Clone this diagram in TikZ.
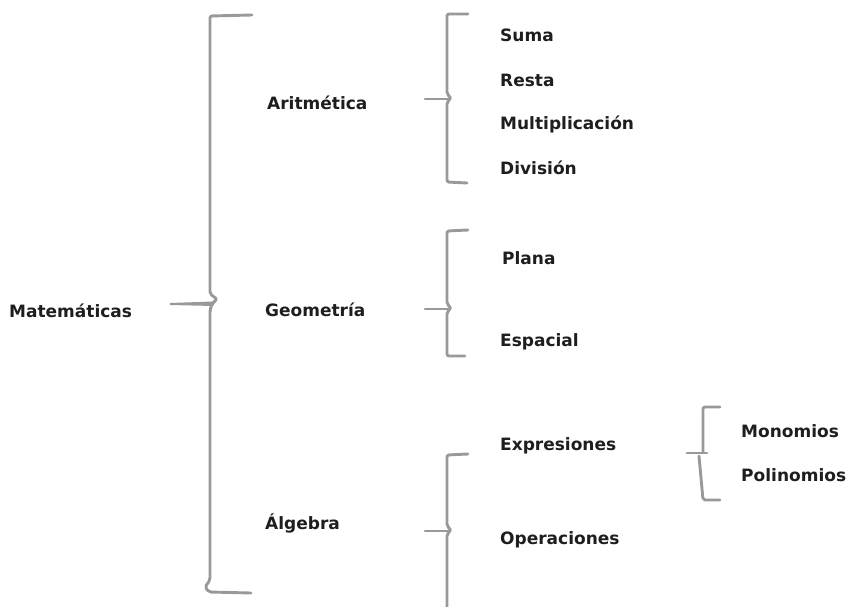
\documentclass[tikz,border=0pt]{standalone}
\usepackage{fontspec}
\setmainfont{DejaVu Sans}
\definecolor{txt}{HTML}{1E1E1E}
\definecolor{brc}{HTML}{999999}
\begin{document}
\begin{tikzpicture}[x=1pt,y=-1pt,
  lbl/.style={anchor=west,inner sep=0pt,text=txt,font=\fontsize{17}{20}\selectfont\bfseries},
  brace/.style={draw=brc,line width=2.9pt,line join=round,line cap=round,rounded corners=2pt}]
\useasboundingbox (0,0) rectangle (848,607);
% labels
\node[lbl] (mat) at (9,311) {Matemáticas};
\node[lbl] (ari) at (267,103) {Aritmética};
\node[lbl] (geo) at (265,310) {Geometría};
\node[lbl] (alg) at (265,523) {Álgebra};
\node[lbl] (sum) at (500,35) {Suma};
\node[lbl] (res) at (500,80) {Resta};
\node[lbl] (mul) at (500,124) {Multiplicación};
\node[lbl] (div) at (500,168) {División};
\node[lbl] (pla) at (502,258) {Plana};
\node[lbl] (esp) at (500,342) {Espacial};
\node[lbl] (exp) at (500,446) {Expresiones};
\node[lbl] (ope) at (500,540) {Operaciones};
\node[lbl] (mon) at (741,431) {Monomios};
\node[lbl] (pol) at (741,475) {Polinomios};
% main brace
\draw[brace] (252,15) -- (210,16) -- (210,294) -- (217,299) -- (212,304) -- (210,310) -- (210,580) -- (205,587) -- (209,592) -- (251,593);
\fill[brc] (170,303) -- (213,301.5) -- (213,306) -- (170,305) -- cycle;
% Aritmetica brace
\draw[brace] (468,14) -- (447,14) -- (447,94) -- (451,98) -- (447,102) -- (447,182) -- (467,183);
\draw[brace] (425,99) -- (449,99);
% Geometria brace
\draw[brace] (468,230) -- (447,231) -- (447,304) -- (451,308) -- (447,312) -- (447,356) -- (465,356);
\draw[brace] (425,309) -- (449,309);
% Algebra brace
\draw[brace] (468,454) -- (447,455) -- (447,526) -- (451,530) -- (447,534) -- (447,610);
\draw[brace] (425,531) -- (449,531);
% Expresiones brace
\draw[brace] (720,407) -- (703,407) -- (703,452);
\draw[brace] (687,453) -- (707,453);
\draw[brace] (699,456) -- (703,500) -- (720,500);
\end{tikzpicture}
\end{document}
